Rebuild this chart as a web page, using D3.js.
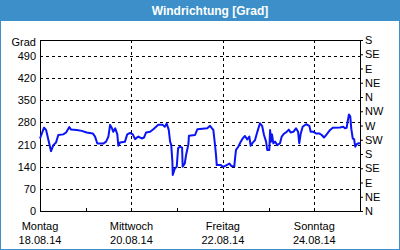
<!DOCTYPE html>
<html>
<head>
<meta charset="utf-8">
<script src="https://cdn.jsdelivr.net/npm/d3@7"></script>
<style>
  body { margin: 0; background: #fff; }
  text { font-family: "Liberation Sans", Arial, sans-serif; }
</style>
</head>
<body>
<div id="chart"></div>
<script>
// hours after 18.08.14 00:00 and wind direction in degrees
var hours = [0,2.1,3.2,5.8,7,8.4,9.6,12.2,13.7,15.4,16.3,19.3,21.9,24.5,27.7,28.9,30.1,33.2,34.7,35.9,
  36.8,37.8,38.5,39.5,40.6,41.1,42,44.6,45.8,47.3,48.7,49.9,51.6,53.4,54.6,55.7,57.8,59.5,62.1,64.4,
  65.5,66.5,67.6,68.3,68.9,69.5,69.7,70.7,71.8,72.5,73.5,74.6,74.9,76,76.7,77.9,78.2,81.4,82.6,84,
  87.8,89.3,90.3,91,91.9,92.4,92.8,94.9,96.2,98,99.4,100.6,102,102.5,102.9,104.1,105.4,106.4,107.6,108.8,
  109.9,110.6,111.7,112.9,114.1,115.5,116.6,117.6,118.7,119.3,120.4,120.8,121.3,121.8,122.5,123.4,124.6,126,126.9,128.1,
  129.5,130.6,131.6,133,134.4,135.5,136.1,136.9,137.9,139.7,141.4,142.1,143.5,144.9,146.6,147.9,149.1,150.5,152.3,153.7,
  157.5,159.2,160.1,161,161.5,162.2,162.9,163.4,164.2,164.9,165.5,166.3,167.3,168];

var direction = [229,263,256,189,208,216,240,242,248,265,257,256,253,248,245,235,213,213,219,235,
  272,261,250,261,242,206,216,219,242,247,242,227,235,229,232,248,250,258,272,272,
  266,276,256,219,208,156,114,133,140,198,203,200,140,150,177,211,238,240,258,259,
  261,269,261,256,208,177,145,145,139,145,150,141,141,172,193,203,219,229,237,226,
  235,206,216,224,250,277,269,240,219,193,193,256,219,242,214,219,208,214,235,244,
  250,257,248,250,261,250,214,245,266,274,269,250,250,245,245,240,232,242,256,263,
  264,266,261,263,282,305,298,261,229,227,203,211,214,214];

var yTicks = [0, 70, 140, 210, 280, 350, 420, 490];
var dirTicks = [0, 45, 90, 135, 180, 225, 270, 315, 360, 405, 450, 495, 540];
var dirLabels = ["N","NE","E","SE","S","SW","W","NW","N","NE","E","SE","S"];
var majorDays = ["2014-08-18", "2014-08-20", "2014-08-22", "2014-08-24"];
var minorDays = ["2014-08-19", "2014-08-21", "2014-08-23"];
var dayNames = ["Sonntag","Montag","Dienstag","Mittwoch","Donnerstag","Freitag","Samstag"];

var W = 400, H = 250;
var margin = { top: 40, right: 40, bottom: 39, left: 40 },
    width = W - margin.left - margin.right,
    height = H - margin.top - margin.bottom;

var parseDay = d3.timeParse("%Y-%m-%d");
var start = parseDay("2014-08-18");
var data = hours.map(function(h, i) {
  return { t: new Date(start.getTime() + h * 3600000), v: direction[i] };
});

var svg = d3.select("#chart")
  .append("svg")
  .attr("width", W)
  .attr("height", H);

// frame + title bar
svg.append("rect")
  .attr("x", 0.5).attr("y", 0.5)
  .attr("width", W - 1).attr("height", H - 1)
  .attr("fill", "#fff")
  .attr("stroke", "#3c8fc8");
svg.append("rect")
  .attr("x", 0).attr("y", 0)
  .attr("width", W).attr("height", 21)
  .attr("fill", "#3c8fc8");
svg.append("text")
  .attr("x", 210).attr("y", 15)
  .attr("text-anchor", "middle")
  .attr("fill", "#fff")
  .style("font-weight", "bold")
  .style("font-size", "12px")
  .text("Windrichtung [Grad]");

var g = svg.append("g")
  .attr("transform", "translate(" + margin.left + "," + margin.top + ")");

var x = d3.scaleTime()
  .domain([start, parseDay("2014-08-25")])
  .range([0, width]);

var y = d3.scaleLinear()
  .domain([0, 540])
  .range([height, 0]);

// horizontal grid
g.append("g")
  .selectAll("line")
  .data(yTicks.slice(1))
  .enter()
  .append("line")
  .attr("x1", 0).attr("x2", width)
  .attr("y1", function(d) { return Math.round(y(d)) + 0.5; })
  .attr("y2", function(d) { return Math.round(y(d)) + 0.5; })
  .attr("stroke", "#000")
  .attr("stroke-dasharray", "3,3");

// vertical grid
g.append("g")
  .selectAll("line")
  .data(majorDays.slice(1).map(parseDay))
  .enter()
  .append("line")
  .attr("x1", function(d) { return Math.round(x(d)) + 0.5; })
  .attr("x2", function(d) { return Math.round(x(d)) + 0.5; })
  .attr("y1", 0).attr("y2", height)
  .attr("stroke", "#000")
  .attr("stroke-dasharray", "3,3");

// minor ticks on x axis
g.append("g")
  .selectAll("line")
  .data(minorDays.map(parseDay))
  .enter()
  .append("line")
  .attr("x1", function(d) { return Math.round(x(d)) + 0.5; })
  .attr("x2", function(d) { return Math.round(x(d)) + 0.5; })
  .attr("y1", height).attr("y2", height - 3)
  .attr("stroke", "#000");

// left axis
var yAxis = g.append("g")
  .call(d3.axisLeft(y).tickValues(yTicks).tickSize(0).tickPadding(4));
yAxis.select(".domain").remove();
yAxis.selectAll("text")
  .style("font-size", "11px")
  .attr("fill", "#000");

g.append("text")
  .attr("x", -4).attr("y", 6)
  .attr("text-anchor", "end")
  .style("font-size", "11px")
  .text("Grad");

// right axis
var rAxis = g.append("g")
  .attr("transform", "translate(" + width + ",0)")
  .call(d3.axisRight(y).tickValues(dirTicks).tickSize(3).tickPadding(2)
    .tickFormat(function(d, i) { return dirLabels[i]; }));
rAxis.select(".domain").remove();
rAxis.selectAll("text")
  .style("font-size", "11px")
  .attr("fill", "#000");

// bottom axis labels: day name + date
var fmtDate = d3.timeFormat("%d.%m.%y");
var xAxis = g.append("g")
  .attr("transform", "translate(0," + height + ")")
  .selectAll("g")
  .data(majorDays.map(parseDay))
  .enter()
  .append("g")
  .attr("transform", function(d) { return "translate(" + x(d) + ",0)"; });
xAxis.append("text")
  .attr("y", 19)
  .attr("text-anchor", "middle")
  .style("font-size", "11px")
  .text(function(d) { return dayNames[d.getDay()]; });
xAxis.append("text")
  .attr("y", 33)
  .attr("text-anchor", "middle")
  .style("font-size", "11px")
  .text(function(d) { return fmtDate(d); });

// plot box
g.append("rect")
  .attr("x", 0.5).attr("y", 0.5)
  .attr("width", width).attr("height", height)
  .attr("fill", "none")
  .attr("stroke", "#000");

// line
var line = d3.line()
  .x(function(d) { return x(d.t); })
  .y(function(d) { return y(d.v); });

g.append("path")
  .datum(data)
  .attr("fill", "none")
  .attr("stroke", "#0a14f5")
  .attr("stroke-width", 2)
  .attr("stroke-linejoin", "round")
  .attr("d", line);
</script>
</body>
</html>
